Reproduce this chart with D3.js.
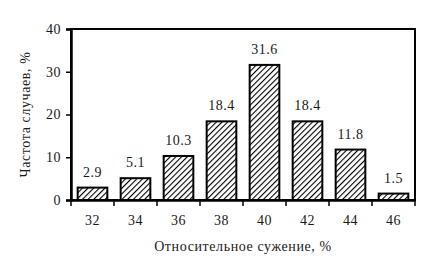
<!DOCTYPE html>
<html>
<head>
<meta charset="utf-8">
<script src="https://cdn.jsdelivr.net/npm/d3@7"></script>
<style>
  body { margin: 0; background: #fff; }
</style>
</head>
<body>
<div id="chart"></div>
<script>
// chart data
let categories = ["32", "34", "36", "38", "40", "42", "44", "46"];
let values = [2.9, 5.1, 10.3, 18.4, 31.6, 18.4, 11.8, 1.5];
let yTicks = [0, 10, 20, 30, 40];
let xTitle = "Относительное сужение, %";
let yTitle = "Частота случаев, %";

// dimensions
let width = 430;
let height = 278;
let margin = { top: 29, right: 15, bottom: 78, left: 71 };
let plotW = width - margin.left - margin.right;
let plotH = height - margin.top - margin.bottom;
let serif = "Liberation Serif";
let textColor = "#1a1a1a";

let svg = d3.select("#chart")
    .append("svg")
    .attr("width", width)
    .attr("height", height)
    .attr("font-family", serif);

// hatch pattern for the bars
let defs = svg.append("defs");
let pattern = defs.append("pattern")
    .attr("id", "hatch")
    .attr("patternUnits", "userSpaceOnUse")
    .attr("width", 4)
    .attr("height", 4)
    .attr("patternTransform", "rotate(45)");
pattern.append("rect")
    .attr("width", 4)
    .attr("height", 4)
    .attr("fill", "#fff");
pattern.append("line")
    .attr("x1", 0).attr("y1", 0)
    .attr("x2", 0).attr("y2", 4)
    .attr("stroke", "#000")
    .attr("stroke-width", 2.2);

let g = svg.append("g")
    .attr("transform", "translate(" + margin.left + "," + margin.top + ")");

let x = d3.scaleBand()
    .domain(categories)
    .range([0, plotW])
    .paddingInner(0.31)
    .paddingOuter(0.155);

let y = d3.scaleLinear()
    .domain([0, 40])
    .range([plotH, 0]);

// frame
g.append("rect")
    .attr("x", 0)
    .attr("y", 0)
    .attr("width", plotW)
    .attr("height", plotH)
    .attr("fill", "none")
    .attr("stroke", "#000")
    .attr("stroke-width", 2);

// bars
g.selectAll(".bar")
    .data(values)
    .enter()
    .append("rect")
    .attr("class", "bar")
    .attr("x", function (d, i) { return x(categories[i]); })
    .attr("y", function (d) { return y(d); })
    .attr("width", x.bandwidth())
    .attr("height", function (d) { return y(0) - y(d); })
    .attr("fill", "url(#hatch)")
    .attr("stroke", "#000")
    .attr("stroke-width", 2);

// value labels
g.selectAll(".val")
    .data(values)
    .enter()
    .append("text")
    .attr("class", "val")
    .attr("x", function (d, i) { return x(categories[i]) + x.bandwidth() / 2; })
    .attr("y", function (d) { return y(d) - 11; })
    .attr("text-anchor", "middle")
    .attr("font-family", serif)
    .attr("font-size", 14)
    .attr("fill", textColor)
    .attr("letter-spacing", 0.5)
    .text(function (d) { return d.toFixed(1); });

// y axis
let yAxis = g.append("g")
    .call(d3.axisLeft(y).tickValues(yTicks).tickSize(5).tickPadding(5))
    .attr("font-family", serif)
    .attr("font-size", 14);
yAxis.select(".domain").attr("stroke-width", 2.5);
yAxis.selectAll(".tick line").attr("stroke-width", 1.5);
yAxis.selectAll(".tick text")
    .attr("fill", textColor)
    .attr("letter-spacing", 0.5);

// x axis: ticks sit on category boundaries
let xAxis = g.append("g")
    .attr("transform", "translate(0," + plotH + ")")
    .call(d3.axisBottom(x).tickSize(0).tickPadding(15))
    .attr("font-family", serif)
    .attr("font-size", 14);
xAxis.select(".domain").attr("stroke-width", 2.5);
xAxis.selectAll(".tick text")
    .attr("fill", textColor)
    .attr("letter-spacing", 0.5);

let step = x.step();
let bounds = d3.range(categories.length + 1).map(function (i) { return i * step; });
xAxis.selectAll(".bound")
    .data(bounds)
    .enter()
    .append("line")
    .attr("class", "bound")
    .attr("x1", function (d) { return d; })
    .attr("x2", function (d) { return d; })
    .attr("y1", 0)
    .attr("y2", 6)
    .attr("stroke", "#000")
    .attr("stroke-width", 1.5);

// axis titles
svg.append("text")
    .attr("x", margin.left + plotW / 2)
    .attr("y", 251)
    .attr("text-anchor", "middle")
    .attr("font-family", serif)
    .attr("font-size", 14)
    .attr("fill", textColor)
    .attr("letter-spacing", 0.6)
    .text(xTitle);

svg.append("text")
    .attr("transform", "translate(30," + (margin.top + plotH / 2) + ") rotate(-90)")
    .attr("text-anchor", "middle")
    .attr("font-family", serif)
    .attr("font-size", 14)
    .attr("fill", textColor)
    .attr("letter-spacing", 0.6)
    .text(yTitle);
</script>
</body>
</html>
